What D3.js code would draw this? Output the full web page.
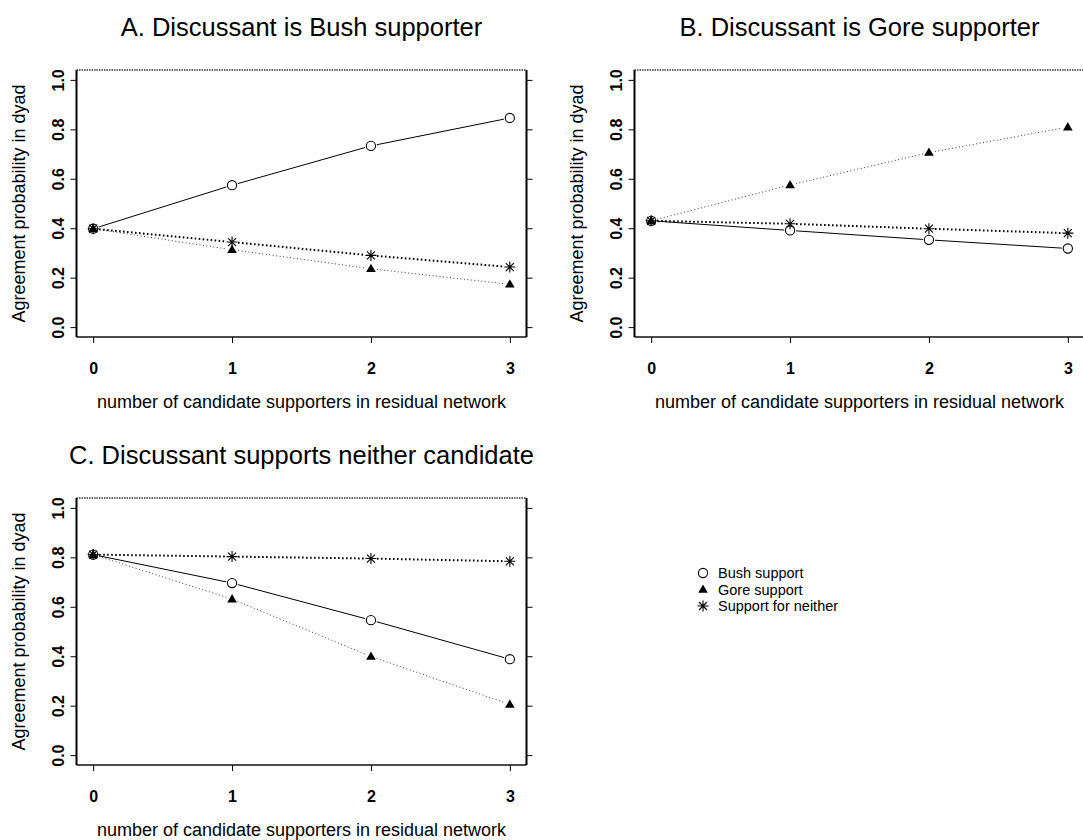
<!DOCTYPE html>
<html>
<head>
<meta charset="utf-8">
<script src="https://cdn.jsdelivr.net/npm/d3@7"></script>
<style>
  html, body { margin: 0; padding: 0; background: #fff; }
  svg { display: block; font-family: "Liberation Sans", Arial, Helvetica, sans-serif; }
</style>
</head>
<body>
<svg id="chart" width="1083" height="840"></svg>
<script>
// ---- data ----
const categories = [0, 1, 2, 3];
const yTicks = [0, 0.2, 0.4, 0.6, 0.8, 1.0];
const panelTitles = [
  "A. Discussant is Bush supporter",
  "B. Discussant is Gore supporter",
  "C. Discussant supports neither candidate"
];
const seriesNames = ["Bush support", "Gore support", "Support for neither"];
const xLabel = "number of candidate supporters in residual network";
const yLabel = "Agreement probability in dyad";

// A. discussant supports Bush
const bushA    = [0.398, 0.574, 0.733, 0.846];
const goreA    = [0.398, 0.313, 0.236, 0.173];
const neitherA = [0.398, 0.344, 0.290, 0.243];
// B. discussant supports Gore
const bushB    = [0.430, 0.391, 0.353, 0.318];
const goreB    = [0.430, 0.575, 0.706, 0.809];
const neitherB = [0.430, 0.418, 0.398, 0.380];
// C. discussant supports neither
const bushC    = [0.811, 0.696, 0.546, 0.388];
const goreC    = [0.811, 0.631, 0.399, 0.205];
const neitherC = [0.811, 0.803, 0.795, 0.784];

// ---- layout ----
const svg = d3.select("#chart");
const panelW = 558, panelH = 428;
const box = { left: 76.5, right: 526.5, top: 70, bottom: 337 };

const panels = [
  { title: panelTitles[0], series: [bushA, goreA, neitherA], col: 0, row: 0 },
  { title: panelTitles[1], series: [bushB, goreB, neitherB], col: 1, row: 0 },
  { title: panelTitles[2], series: [bushC, goreC, neitherC], col: 0, row: 1 }
];

// line / marker style per series (Bush, Gore, neither)
const styles = [
  { marker: "circle",   stroke: "#000", width: 1,   dash: null },
  { marker: "triangle", stroke: "#3a3a3a", width: 1, dash: "1,2.5" },
  { marker: "asterisk", stroke: "#000", width: 2,   dash: "1.6,2.4" }
];

function drawMarker(g, type, x, y) {
  if (type === "circle") {
    g.append("circle").attr("cx", x).attr("cy", y).attr("r", 4.6)
      .attr("fill", "#fff").attr("stroke", "#000").attr("stroke-width", 1.1);
  } else if (type === "triangle") {
    g.append("path")
      .attr("d", d3.symbol().type(d3.symbolTriangle).size(40)())
      .attr("transform", `translate(${x},${y + 0.5})`)
      .attr("fill", "#000");
  } else {
    const a = 5.5, b = 4;
    const p = `M${x - a},${y}L${x + a},${y}M${x},${y - a}L${x},${y + a}` +
              `M${x - b},${y - b}L${x + b},${y + b}M${x - b},${y + b}L${x + b},${y - b}`;
    g.append("path").attr("d", p).attr("stroke", "#000").attr("stroke-width", 1.1).attr("fill", "none");
  }
}

panels.forEach(p => {
  const ox = p.col * panelW, oy = p.row * panelH;
  const g = svg.append("g").attr("transform", `translate(${ox},${oy})`);

  const x = d3.scaleLinear().domain([-0.12, 3.12]).range([box.left, box.right]);
  const y = d3.scaleLinear().domain([-0.04, 1.04]).range([box.bottom, box.top]);

  // title
  g.append("text")
    .attr("x", (box.left + box.right) / 2).attr("y", 36)
    .attr("text-anchor", "middle").attr("font-size", 25.5)
    .text(p.title);

  // axes
  const xAxis = d3.axisBottom(x).tickValues(categories).tickFormat(d3.format("d"))
    .tickSizeInner(6).tickSizeOuter(0).tickPadding(20);
  const gx = g.append("g").attr("transform", `translate(0,${box.bottom})`).call(xAxis);
  gx.select(".domain").remove();
  gx.selectAll("line").attr("stroke", "#000").attr("stroke-width", 1);
  gx.selectAll("text").attr("font-size", 16).attr("font-weight", "bold")
    .attr("font-family", "Liberation Sans, Arial, sans-serif").attr("fill", "#000");

  const yAxisL = d3.axisLeft(y).tickValues(yTicks).tickFormat(d3.format(".1f"))
    .tickSizeInner(6).tickSizeOuter(0);
  const gyl = g.append("g").attr("transform", `translate(${box.left},0)`).call(yAxisL);
  gyl.select(".domain").remove();
  gyl.selectAll("line").attr("stroke", "#000").attr("stroke-width", 1);
  gyl.selectAll("text")
    .attr("font-size", 16).attr("font-weight", "bold").attr("fill", "#000")
    .attr("font-family", "Liberation Sans, Arial, sans-serif")
    .attr("text-anchor", "middle").attr("dy", null)
    .attr("x", null)
    .attr("transform", "translate(-13,0) rotate(-90)");

  const yAxisR = d3.axisRight(y).tickValues(yTicks).tickFormat("")
    .tickSizeInner(6).tickSizeOuter(0);
  const gyr = g.append("g").attr("transform", `translate(${box.right},0)`).call(yAxisR);
  gyr.select(".domain").remove();
  gyr.selectAll("line").attr("stroke", "#000").attr("stroke-width", 1);

  // plot frame
  g.append("line").attr("x1", box.left).attr("x2", box.right).attr("y1", box.top).attr("y2", box.top)
    .attr("stroke", "#333").attr("stroke-width", 1.4).attr("stroke-dasharray", "1.5,1");
  g.append("line").attr("x1", box.left).attr("x2", box.right).attr("y1", box.bottom).attr("y2", box.bottom)
    .attr("stroke", "#111").attr("stroke-width", 1.6);
  g.append("line").attr("x1", box.left).attr("x2", box.left).attr("y1", box.top).attr("y2", box.bottom)
    .attr("stroke", "#000").attr("stroke-width", 2);
  g.append("line").attr("x1", box.right).attr("x2", box.right).attr("y1", box.top).attr("y2", box.bottom)
    .attr("stroke", "#000").attr("stroke-width", 2);

  // axis titles
  g.append("text")
    .attr("x", (box.left + box.right) / 2).attr("y", 408)
    .attr("text-anchor", "middle").attr("font-size", 18)
    .text(xLabel);
  g.append("text")
    .attr("transform", `translate(25,${(box.top + box.bottom) / 2}) rotate(-90)`)
    .attr("text-anchor", "middle").attr("font-size", 18)
    .text(yLabel);

  // series: lines with gaps around the points, then markers
  const gap = 6;
  p.series.forEach((vals, si) => {
    const st = styles[si];
    const pts = categories.map((c, i) => [x(c), y(vals[i])]);
    const lg = g.append("g");
    for (let i = 0; i < pts.length - 1; i++) {
      const [x1, y1] = pts[i], [x2, y2] = pts[i + 1];
      const len = Math.hypot(x2 - x1, y2 - y1);
      const ux = (x2 - x1) / len, uy = (y2 - y1) / len;
      lg.append("line")
        .attr("x1", x1 + ux * gap).attr("y1", y1 + uy * gap)
        .attr("x2", x2 - ux * gap).attr("y2", y2 - uy * gap)
        .attr("stroke", st.stroke).attr("stroke-width", st.width)
        .attr("stroke-dasharray", st.dash);
    }
    pts.forEach(([px, py]) => drawMarker(g, st.marker, px, py));
  });
});

// legend
const legend = svg.append("g");
const legY = [573, 589.5, 606];
seriesNames.forEach((name, i) => {
  drawMarker(legend, styles[i].marker, 703, legY[i]);
  legend.append("text").attr("x", 718).attr("y", legY[i] + 5.2)
    .attr("font-size", 14.5).text(name);
});
</script>
</body>
</html>
